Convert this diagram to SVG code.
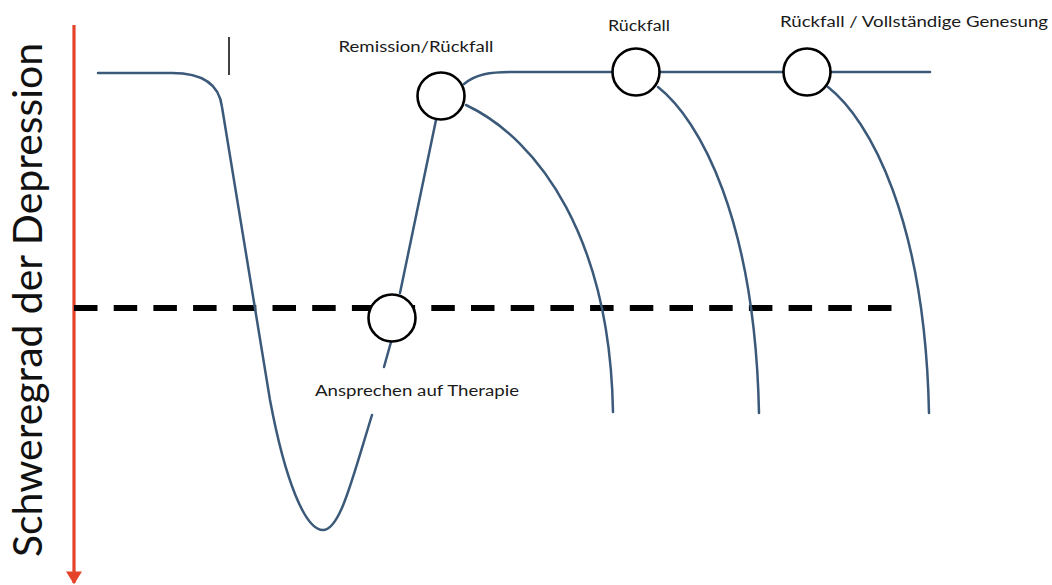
<svg xmlns="http://www.w3.org/2000/svg" width="1052" height="585" viewBox="0 0 1052 585">
  <defs>
    <style>
      .curve { fill: none; stroke: #3B5979; stroke-width: 2.5; stroke-linecap: round; }
      .node { fill: #ffffff; stroke: #000000; stroke-width: 2.6; }
      .lbl { font-family: Lato, "Open Sans", "Liberation Sans", sans-serif; font-size: 14.5px; fill: #1a1a1a; }
      .axislbl { font-family: Lato, "Open Sans", "Liberation Sans", sans-serif; font-size: 41px; fill: #111111; }
    </style>
    <marker id="redArrow" viewBox="0 0 10 10" refX="9" refY="5" markerWidth="4" markerHeight="5" markerUnits="strokeWidth" orient="auto" preserveAspectRatio="none">
      <path d="M0,0 L10,5 L0,10 Z" fill="#E4432A"/>
    </marker>
  </defs>
  <rect width="1052" height="585" fill="#ffffff"/>

  <g id="axis">
    <line x1="74" y1="25" x2="74" y2="583" stroke="#E4432A" stroke-width="3.2" marker-end="url(#redArrow)"/>
    <text class="axislbl" transform="translate(42,300) rotate(-90)" text-anchor="middle" textLength="514" lengthAdjust="spacingAndGlyphs">Schweregrad der Depression</text>
  </g>

  <g id="threshold">
    <line x1="74" y1="308" x2="892" y2="308" stroke="#000000" stroke-width="6" stroke-dasharray="23.5 16.2"/>
  </g>

  <g id="tick">
    <line x1="229" y1="37" x2="229" y2="75" stroke="#000000" stroke-width="1.5"/>
  </g>

  <g id="connectors">
    <path class="curve" d="M98,73 H172 C200,73 219,82 222,107 L270,400 C285,480 305,530 323,530 C340,530 352,480 372,415"/>
    <path class="curve" d="M384,367 L391,342"/>
    <path class="curve" d="M400,293 L436,120"/>
    <path class="curve" d="M464,84 C476,74 490,72 512,72 H612"/>
    <path class="curve" d="M660,72 H783"/>
    <path class="curve" d="M831,72 H930"/>
    <path class="curve" d="M466,105 C540,140 610,240 613,412"/>
    <path class="curve" d="M658,87 C700,120 755,220 759,413"/>
    <path class="curve" d="M828,87 C870,120 925,220 929,413"/>
  </g>

  <g id="node-ansprechen">
    <circle class="node" cx="392" cy="318" r="23.5"/>
    <text class="lbl" x="417" y="396" text-anchor="middle" textLength="204" lengthAdjust="spacingAndGlyphs">Ansprechen auf Therapie</text>
  </g>

  <g id="node-remission">
    <circle class="node" cx="441" cy="96" r="23.5"/>
    <text class="lbl" x="416" y="52" text-anchor="middle" textLength="155" lengthAdjust="spacingAndGlyphs">Remission/Rückfall</text>
  </g>

  <g id="node-rueckfall">
    <circle class="node" cx="636" cy="72" r="23.5"/>
    <text class="lbl" x="639" y="31" text-anchor="middle" textLength="62" lengthAdjust="spacingAndGlyphs">Rückfall</text>
  </g>

  <g id="node-genesung">
    <circle class="node" cx="807" cy="72" r="23.5"/>
    <text class="lbl" x="914" y="27" text-anchor="middle" textLength="268" lengthAdjust="spacingAndGlyphs">Rückfall / Vollständige Genesung</text>
  </g>
</svg>
